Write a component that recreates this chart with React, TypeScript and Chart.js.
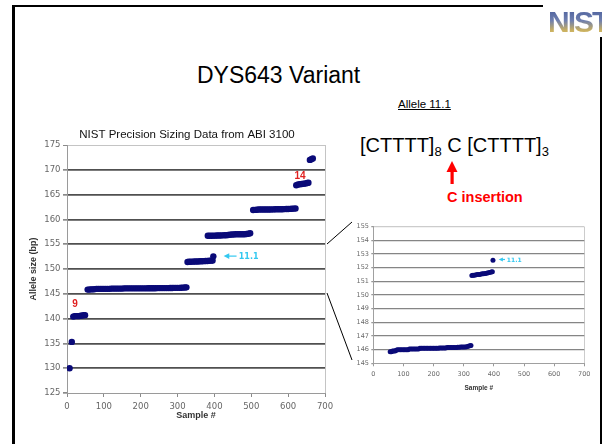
import React, { useEffect, useRef } from "react";
import { Chart, registerables } from "chart.js";
Chart.register(...registerables);

// ---------------- data ----------------
const sampleNo = [
  7, 13,
  17, 21, 25, 29, 33, 37, 41, 45, 49,
  56, 60, 64, 68, 72, 76, 80, 85, 90, 95, 100, 105, 110, 115, 120, 125, 130, 135, 140, 145, 150,
  155, 160, 165, 170, 175, 180, 185, 190, 195, 200, 205, 210, 215, 220, 225, 230, 235, 240, 245,
  250, 255, 260, 265, 270, 275, 280, 285, 290, 295, 300, 305, 310, 315, 320, 324,
  327, 331, 336, 341, 346, 351, 356, 361, 366, 371, 376, 381, 386, 391, 395,
  397,
  382, 387, 392, 397, 402, 407, 412, 417, 422, 427, 432, 437, 442, 447, 452, 457, 462, 467, 472,
  477, 482, 487, 492, 497,
  505, 510, 515, 520, 525, 530, 535, 540, 545, 550, 555, 560, 565, 570, 575, 580, 585, 590, 595,
  600, 605, 610, 615, 620,
  622, 627, 632, 637, 642, 647, 652, 655,
  659, 663, 667,
];
const sizeBp = [
  130.0, 135.3,
  140.4, 140.5, 140.5, 140.5, 140.5, 140.6, 140.6, 140.7, 140.7,
  145.85, 145.85, 145.9, 145.9, 145.9, 145.95, 146.0, 146.0, 146.0, 146.0, 146.0, 146.0, 146.0, 146.0,
  146.05, 146.05, 146.05, 146.05, 146.05, 146.05, 146.05,
  146.1, 146.1, 146.1, 146.1, 146.1, 146.1, 146.1, 146.1, 146.1, 146.1, 146.1, 146.1, 146.1,
  146.12, 146.12, 146.12, 146.12, 146.12, 146.15,
  146.15, 146.15, 146.15, 146.15, 146.15, 146.15, 146.18, 146.18, 146.2, 146.2, 146.2, 146.2, 146.22,
  146.25, 146.28, 146.3,
  151.42, 151.45, 151.45, 151.48, 151.5, 151.5, 151.52, 151.55, 151.55, 151.58, 151.6, 151.62, 151.65,
  151.68, 151.7,
  152.55,
  156.7, 156.7, 156.7, 156.72, 156.72, 156.75, 156.75, 156.75, 156.78, 156.8, 156.8, 156.85, 156.9,
  156.95, 156.95, 157.0, 157.0, 157.0, 157.0, 157.0, 157.02, 157.05, 157.1, 157.2,
  161.9, 161.92, 161.95, 162.0, 162.0, 162.0, 162.0, 162.0, 162.0, 162.0, 162.02, 162.02, 162.05,
  162.05, 162.05, 162.05, 162.05, 162.08, 162.1, 162.1, 162.12, 162.15, 162.18, 162.2,
  166.9, 167.05, 167.1, 167.15, 167.2, 167.25, 167.35, 167.4,
  172.0, 172.15, 172.3,
];

const xTicks = [0, 100, 200, 300, 400, 500, 600, 700];
const mainYTicks = [125, 130, 135, 140, 145, 150, 155, 160, 165, 170, 175];
const insetYTicks = [145, 146, 147, 148, 149, 150, 151, 152, 153, 154, 155];

const mainTitle = "NIST Precision Sizing Data from ABI 3100";

// allele number labels (text, sample #, size)
const alleleLabelText = ["9", "14"];
const alleleLabelX = [22, 632];
const alleleLabelY = [142.8, 168.7];

// variant arrow "11.1"
const variantText = "11.1";
const variantY = 152.6;
const mainArrow = [425, 460, 466]; // head, tail, text start (sample #)
const insetArrow = [416, 437, 443];

// ---------------- styles ----------------
const NAVY = "#0a0a78";
const CYAN = "#33c8f0";
const RED = "#e02020";
const SANS = '"Liberation Sans", Arial, sans-serif';
const TICKF = '"DejaVu Sans", sans-serif';

type AnnotCfg = {
  showAlleles: boolean;
  arrow: number[];
  font: number;
  head: number;
  title?: string;
};

function annotPlugin(cfg: AnnotCfg) {
  return {
    id: "annot",
    afterDraw(chart: any) {
      const { ctx, scales, chartArea } = chart;
      const xs = scales.x;
      const ys = scales.y;
      ctx.save();
      if (cfg.title) {
        ctx.fillStyle = "#111";
        ctx.font = `11.5px ${SANS}`;
        ctx.textAlign = "center";
        ctx.textBaseline = "middle";
        const cx = (chartArea.left + chartArea.right) / 2 - 9;
        ctx.fillText(cfg.title, cx, chartArea.top - 10);
      }
      if (cfg.showAlleles) {
        ctx.fillStyle = RED;
        ctx.font = `bold 10px ${SANS}`;
        ctx.textAlign = "center";
        ctx.textBaseline = "middle";
        alleleLabelText.forEach((t, i) => {
          ctx.fillText(t, xs.getPixelForValue(alleleLabelX[i]), ys.getPixelForValue(alleleLabelY[i]));
        });
      }
      const yy = ys.getPixelForValue(variantY);
      const hx = xs.getPixelForValue(cfg.arrow[0]);
      const tx = xs.getPixelForValue(cfg.arrow[1]);
      const sx = xs.getPixelForValue(cfg.arrow[2]);
      ctx.strokeStyle = CYAN;
      ctx.fillStyle = CYAN;
      ctx.lineWidth = 1.2;
      ctx.beginPath();
      ctx.moveTo(hx + cfg.head, yy);
      ctx.lineTo(tx, yy);
      ctx.stroke();
      ctx.beginPath();
      ctx.moveTo(hx, yy);
      ctx.lineTo(hx + cfg.head * 1.4, yy - cfg.head * 0.7);
      ctx.lineTo(hx + cfg.head * 1.4, yy + cfg.head * 0.7);
      ctx.closePath();
      ctx.fill();
      ctx.font = `bold ${cfg.font}px ${TICKF}`;
      ctx.textAlign = "left";
      ctx.textBaseline = "middle";
      ctx.fillText(variantText, sx, yy + 0.5);
      ctx.restore();
    },
  };
}

function buildPoints(minY: number, maxY: number) {
  const pts: { x: number; y: number }[] = [];
  sampleNo.forEach((x, i) => {
    const y = sizeBp[i];
    if (y >= minY && y <= maxY) pts.push({ x, y });
  });
  return pts;
}

export default function App() {
  const mainRef = useRef<HTMLCanvasElement>(null);
  const insetRef = useRef<HTMLCanvasElement>(null);

  useEffect(() => {
    const main = new Chart(mainRef.current!, {
      type: "scatter",
      data: {
        datasets: [
          {
            data: buildPoints(120, 180),
            pointRadius: 3.2,
            pointBackgroundColor: NAVY,
            pointBorderColor: NAVY,
            pointBorderWidth: 0,
          },
        ],
      },
      options: {
        animation: false,
        responsive: false,
        devicePixelRatio: 1,
        layout: { padding: { top: 23, right: 23, bottom: 0, left: 0 } },
        plugins: {
          legend: { display: false },
          tooltip: { enabled: false },
          title: { display: false },
        },
        scales: {
          x: {
            type: "linear",
            min: 0,
            max: 700,
            afterBuildTicks: (s: any) => {
              s.ticks = xTicks.map((v) => ({ value: v }));
            },
            afterFit: (s: any) => {
              s.height = 39;
            },
            grid: {
              color: (c: any) => (c.tick && c.tick.value === 700 ? "#c4c4c4" : "rgba(0,0,0,0)"),
              tickColor: "#8a8a8a",
              tickLength: 4,
              lineWidth: 1,
            },
            border: { color: "#9a9a9a", width: 1 },
            ticks: {
              font: { family: TICKF, size: 8.5 },
              color: "#666",
              padding: 4.5,
              maxRotation: 0,
              autoSkip: false,
            },
            title: {
              display: true,
              text: "Sample #",
              font: { family: SANS, size: 9, weight: "bold" },
              color: "#333",
              padding: { top: 0, bottom: 11.5 },
            },
          },
          y: {
            type: "linear",
            min: 125,
            max: 175,
            afterBuildTicks: (s: any) => {
              s.ticks = mainYTicks.map((v) => ({ value: v }));
            },
            afterFit: (s: any) => {
              s.width = 41;
            },
            grid: {
              color: (c: any) => {
                const v = c.tick && c.tick.value;
                if (v === 175) return "#c4c4c4";
                if (v === 125) return "rgba(0,0,0,0)";
                return "#505050";
              },
              lineWidth: (c: any) => (c.tick && c.tick.value === 175 ? 1 : 1.7),
              tickColor: "#8a8a8a",
              tickLength: 4,
            },
            border: { color: "#9a9a9a", width: 1 },
            ticks: {
              font: { family: TICKF, size: 8.5 },
              color: "#666",
              padding: 2.5,
              autoSkip: false,
            },
            title: {
              display: true,
              text: "Allele size (bp)",
              font: { family: SANS, size: 9, weight: "bold" },
              color: "#333",
              padding: { top: 2, bottom: 0 },
            },
          },
        },
      },
      plugins: [annotPlugin({ showAlleles: true, arrow: mainArrow, font: 8, head: 4, title: mainTitle })],
    } as any);

    const inset = new Chart(insetRef.current!, {
      type: "scatter",
      data: {
        datasets: [
          {
            data: buildPoints(144.5, 155.5),
            pointRadius: 2.5,
            pointBackgroundColor: NAVY,
            pointBorderColor: NAVY,
            pointBorderWidth: 0,
          },
        ],
      },
      options: {
        animation: false,
        responsive: false,
        devicePixelRatio: 1,
        layout: { padding: { top: 14.7, right: 8.3, bottom: 0, left: 0 } },
        plugins: {
          legend: { display: false },
          tooltip: { enabled: false },
          title: { display: false },
        },
        scales: {
          x: {
            type: "linear",
            min: 0,
            max: 700,
            afterBuildTicks: (s: any) => {
              s.ticks = xTicks.map((v) => ({ value: v }));
            },
            afterFit: (s: any) => {
              s.height = 36.7;
            },
            grid: {
              color: (c: any) => (c.tick && c.tick.value === 700 ? "#cccccc" : "rgba(0,0,0,0)"),
              tickColor: "#999",
              tickLength: 3,
              lineWidth: 1,
            },
            border: { color: "#a0a0a0", width: 1 },
            ticks: {
              font: { family: TICKF, size: 6.5 },
              color: "#6a6a6a",
              padding: 4.5,
              maxRotation: 0,
              autoSkip: false,
            },
            title: {
              display: true,
              text: "Sample #",
              font: { family: SANS, size: 6.5, weight: "bold" },
              color: "#333",
              padding: { top: 0, bottom: 8 },
            },
          },
          y: {
            type: "linear",
            min: 145,
            max: 155,
            afterBuildTicks: (s: any) => {
              s.ticks = insetYTicks.map((v) => ({ value: v }));
            },
            afterFit: (s: any) => {
              s.width = 33.3;
            },
            grid: {
              color: (c: any) => {
                const v = c.tick && c.tick.value;
                if (v === 155) return "#cccccc";
                if (v === 145) return "rgba(0,0,0,0)";
                return "#858585";
              },
              lineWidth: 1.3,
              tickColor: "#999",
              tickLength: 2,
            },
            border: { color: "#a0a0a0", width: 1 },
            ticks: {
              font: { family: TICKF, size: 6.5 },
              color: "#6a6a6a",
              padding: 2.3,
              autoSkip: false,
            },
          },
        },
      },
      plugins: [annotPlugin({ showAlleles: false, arrow: insetArrow, font: 6, head: 3 })],
    } as any);

    return () => {
      main.destroy();
      inset.destroy();
    };
  }, []);

  const subStyle = { fontSize: 13, verticalAlign: -4, lineHeight: 0, color: "#000" } as const;

  return (
    <div
      style={{
        position: "absolute",
        left: 0,
        top: 0,
        width: 602,
        height: 444,
        overflow: "hidden",
        background: "#fff",
        fontFamily: SANS,
      }}
    >
      {/* slide frame */}
      <div
        style={{
          position: "absolute",
          left: 12,
          top: 5,
          width: 590,
          height: 470,
          boxSizing: "border-box",
          borderLeft: "3px solid #000",
          borderTop: "2px solid #000",
          borderRight: "2px solid #000",
        }}
      />
      {/* NIST logo */}
      <div
        style={{
          position: "absolute",
          left: 543,
          top: 0,
          width: 59,
          height: 37,
          background: "#fff",
        }}
      >
        <div
          style={{
            position: "absolute",
            left: 5,
            top: 8,
            fontFamily: SANS,
            fontWeight: "bold",
            fontSize: 30,
            lineHeight: "28px",
            letterSpacing: -2,
            background: "linear-gradient(#4a5e9c 0%, #6f7fae 45%, #c9b060 80%, #d8bf6a 100%)",
            WebkitBackgroundClip: "text",
            backgroundClip: "text",
            color: "transparent",
          }}
        >
          NIST
        </div>
      </div>

      <div
        style={{
          position: "absolute",
          left: 197,
          top: 63.5,
          fontSize: 23,
          lineHeight: "23px",
          color: "#000",
          whiteSpace: "nowrap",
        }}
      >
        DYS643 Variant
      </div>
      <div
        style={{
          position: "absolute",
          left: 398,
          top: 98.5,
          fontSize: 11.5,
          lineHeight: "11.5px",
          color: "#000",
          textDecoration: "underline",
          whiteSpace: "nowrap",
        }}
      >
        Allele 11.1
      </div>
      <div
        style={{
          position: "absolute",
          left: 360,
          top: 135,
          fontSize: 20,
          lineHeight: "20px",
          color: "#000",
          whiteSpace: "nowrap",
        }}
      >
        [CTTTT]<sub style={subStyle}>8</sub> C [CTTTT]<sub style={subStyle}>3</sub>
      </div>
      <div
        style={{
          position: "absolute",
          left: 447,
          top: 190,
          fontSize: 14.5,
          lineHeight: "14.5px",
          fontWeight: "bold",
          color: "#ff0000",
          whiteSpace: "nowrap",
        }}
      >
        C insertion
      </div>

      <canvas
        ref={mainRef}
        width={322}
        height={310}
        style={{ position: "absolute", left: 26, top: 122, width: 322, height: 310 }}
      />
      <canvas
        ref={insetRef}
        width={255}
        height={188}
        style={{ position: "absolute", left: 340, top: 212, width: 255, height: 188 }}
      />

      <svg
        width={602}
        height={444}
        style={{ position: "absolute", left: 0, top: 0, pointerEvents: "none" }}
      >
        <line x1={327} y1={244} x2={352} y2={222} stroke="#000" strokeWidth={1} />
        <line x1={327} y1={293} x2={352} y2={360} stroke="#000" strokeWidth={1} />
        <rect x={450.5} y={171} width={3.2} height={13} fill="#ff0000" />
        <polygon points="452,161 446.5,172 457.5,172" fill="#ff0000" />
      </svg>
    </div>
  );
}
